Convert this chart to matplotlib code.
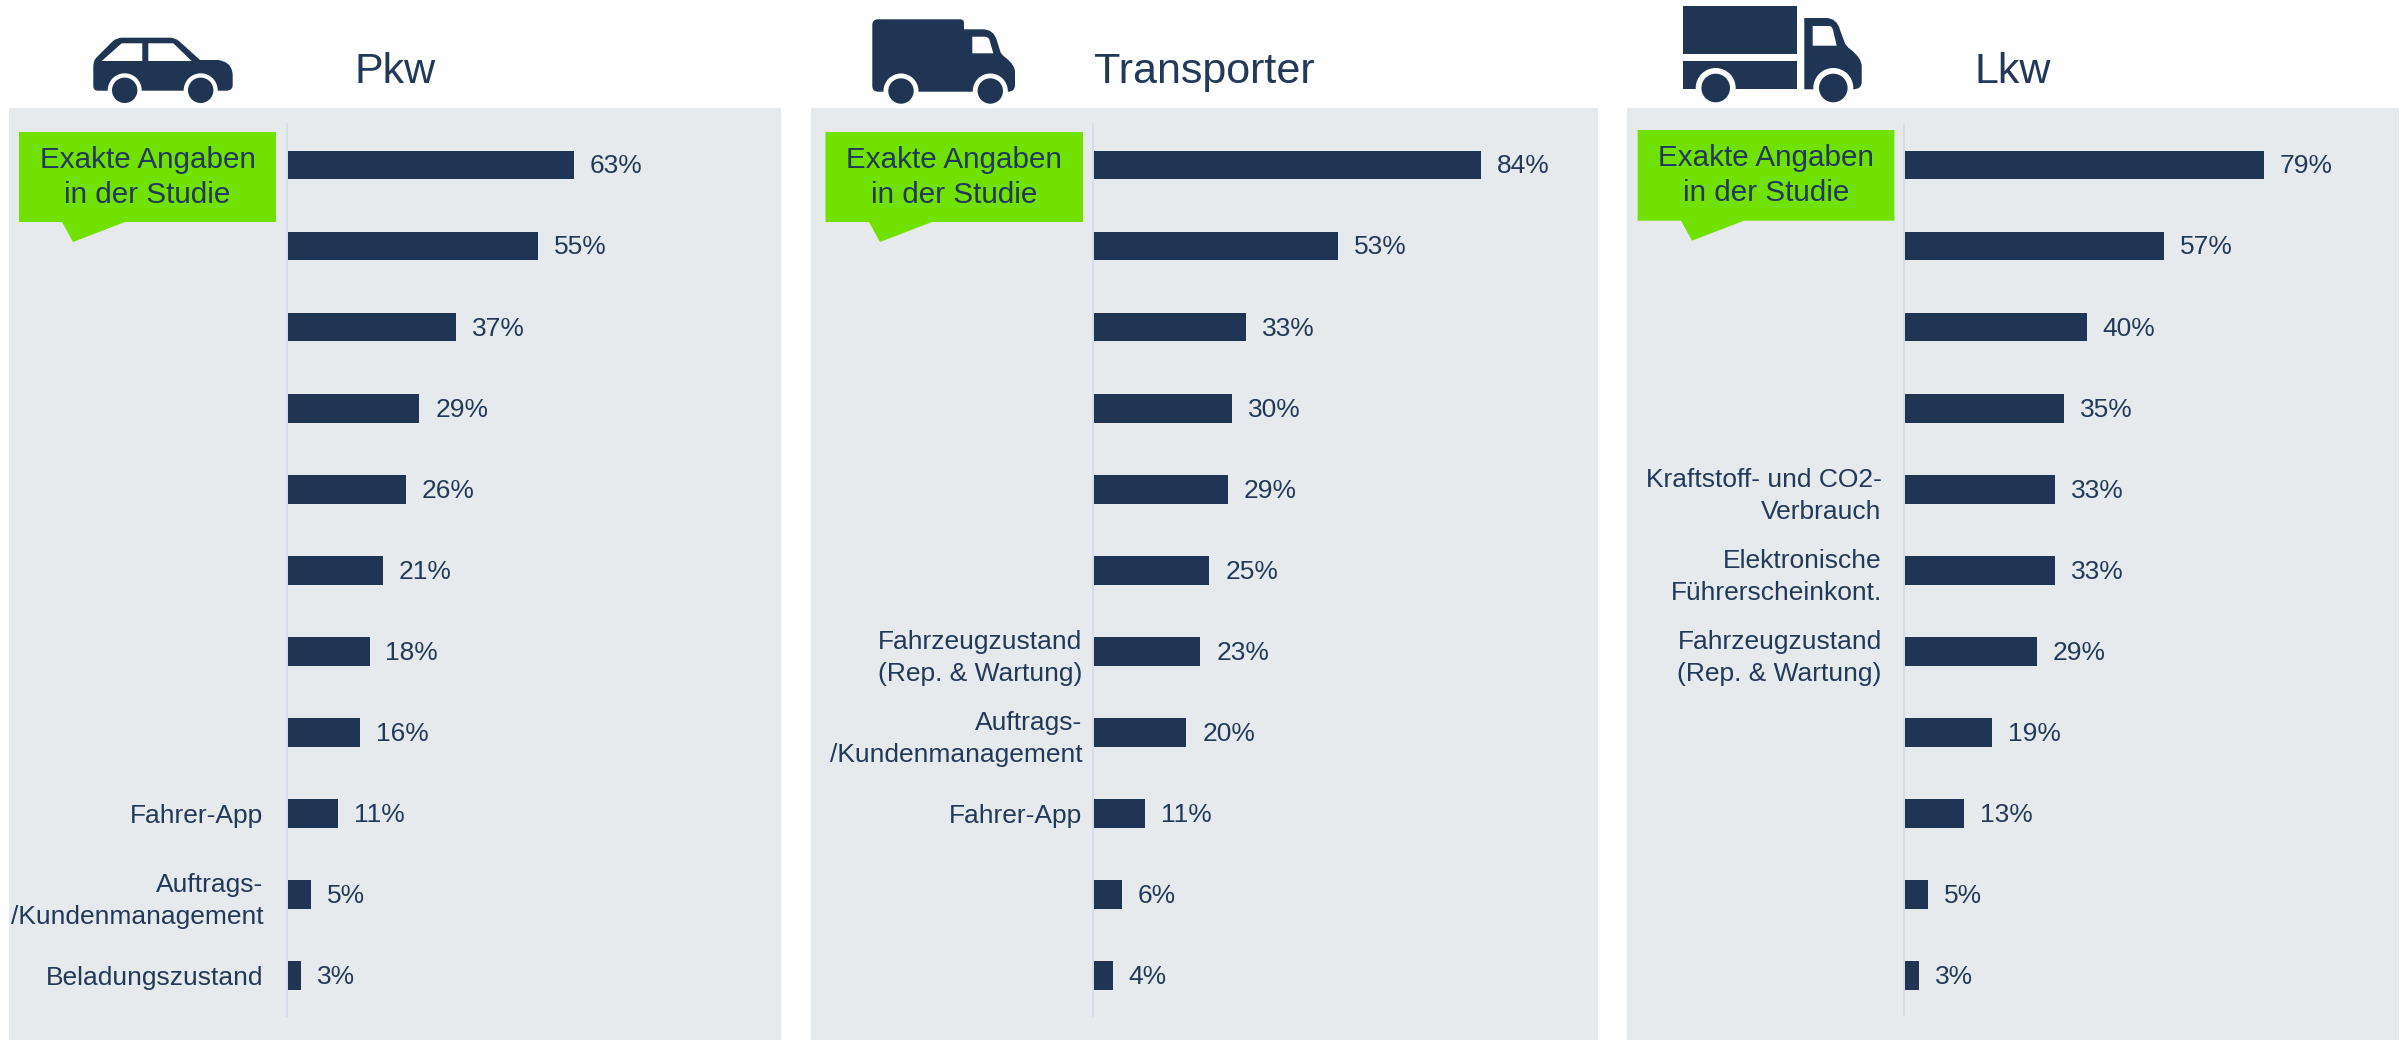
import matplotlib
matplotlib.use("Agg")
import matplotlib.pyplot as plt
from matplotlib.patches import Circle, PathPatch, Polygon, Rectangle
from matplotlib.path import Path

plt.rcParams["font.family"] = ["Liberation Sans", "DejaVu Sans"]

W, H = 2407, 1040
NAVY = "#1F3553"
TEXT = "#22395A"
PANEL = "#E7EAED"
GREEN = "#71E102"
AXIS = "#CFDAE8"

titles = ["Pkw", "Transporter", "Lkw"]

pkw_values = [63, 55, 37, 29, 26, 21, 18, 16, 11, 5, 3]
transporter_values = [84, 53, 33, 30, 29, 25, 23, 20, 11, 6, 4]
lkw_values = [79, 57, 40, 35, 33, 33, 29, 19, 13, 5, 3]

pkw_labels = ["", "", "", "", "", "", "", "", "Fahrer-App",
              "Auftrags-\n/Kundenmanagement", "Beladungszustand"]
transporter_labels = ["", "", "", "", "", "",
                      "Fahrzeugzustand\n(Rep. & Wartung)",
                      "Auftrags-\n/Kundenmanagement", "Fahrer-App", "", ""]
lkw_labels = ["", "", "", "", "Kraftstoff- und CO2-\nVerbrauch",
              "Elektronische\nFührerscheinkont.",
              "Fahrzeugzustand\n(Rep. & Wartung)", "", "", "", ""]

# left, right, x of the bars' base, pixels per percent, label pad in points
panels = [(9, 781, 287.8, 4.54, 17), (811, 1598, 1094.4, 4.6, 8), (1627, 2399, 1905.3, 4.54, 16.3)]
PANEL_TOP, PANEL_BOTTOM = 108, 1040
FIRST_BAR, BAR_STEP = 165, 81.07

fig = plt.figure(figsize=(W / 100, H / 100), dpi=100, facecolor="white")

series = [pkw_values, transporter_values, lkw_values]
labels = [pkw_labels, transporter_labels, lkw_labels]

for (left, right, zero, scale, pad), values, names in zip(panels, series, labels):
    ax = fig.add_axes([left / W, 1 - PANEL_BOTTOM / H, (right - left) / W,
                       (PANEL_BOTTOM - PANEL_TOP) / H])
    ax.set_facecolor(PANEL)
    pos = list(range(len(values)))
    ax.barh(pos, values, height=0.353, color=NAVY)
    for y, v in zip(pos, values):
        ax.annotate(f"{v}%", (v, y), xytext=(11.5, -1), textcoords="offset points",
                    fontsize=19, color=TEXT, ha="left", va="center")
    ax.set_xlim((left - zero) / scale, (right - zero) / scale)
    ax.set_ylim((PANEL_BOTTOM - FIRST_BAR) / BAR_STEP, (PANEL_TOP - FIRST_BAR) / BAR_STEP)
    for side in ["top", "right", "bottom"]:
        ax.spines[side].set_visible(False)
    ax.spines["left"].set_position(("data", -1 / scale))
    ax.spines["left"].set_color(AXIS)
    ax.spines["left"].set_linewidth(1.2)
    ax.spines["left"].set_bounds((124 - FIRST_BAR) / BAR_STEP, (1016 - FIRST_BAR) / BAR_STEP)
    ax.set_xticks([])
    ax.set_yticks(pos)
    ax.set_yticklabels(names, fontsize=19, color=TEXT, multialignment="right", linespacing=1.42)
    ax.tick_params(axis="y", length=0, pad=pad)

# overlay in pixel coordinates for titles, icons and callouts
over = fig.add_axes([0, 0, 1, 1], facecolor="none")
over.set_xlim(0, W)
over.set_ylim(H, 0)
over.axis("off")

for x, title in zip([355, 1094, 1975], titles):
    over.text(x, 83, title, fontsize=31, color=TEXT, ha="left", va="baseline")


def callout(x0, x1, y0, y1, tail):
    over.add_patch(Polygon([(x0, y0), (x1, y0), (x1, y1), (tail + 63, y1),
                            (tail + 11, y1 + 20), (tail, y1), (x0, y1)],
                           closed=True, facecolor=GREEN, edgecolor="none"))
    mid = (x0 + x1) / 2
    over.text(mid, y0 + 28, "Exakte Angaben", fontsize=21.3, color=TEXT, ha="center", va="center")
    over.text(mid, y0 + 63, "in der Studie", fontsize=21.3, color=TEXT, ha="center", va="center")


callout(19, 276, 132, 222, 62)
callout(825.5, 1083, 132, 222, 869)
callout(1637.6, 1894.4, 130, 220.7, 1681)


def outline(points, color=NAVY):
    # a point with a third item is the control point of a curve to the next one
    verts, codes = [], []
    for i, p in enumerate(points):
        verts.append(p[:2])
        if i == 0:
            codes.append(Path.MOVETO)
        elif len(p) == 3 or len(points[i - 1]) == 3:
            codes.append(Path.CURVE3)
        else:
            codes.append(Path.LINETO)
    verts.append(points[0][:2])
    codes.append(Path.CLOSEPOLY)
    over.add_patch(PathPatch(Path(verts, codes), facecolor=color, edgecolor="none"))


def wheel(x, y, r, arch):
    over.add_patch(Circle((x, y), arch, facecolor="white", edgecolor="none"))
    over.add_patch(Circle((x, y), r, facecolor=NAVY, edgecolor="none"))


# car
outline([(93.3, 67), (93.3, 60, 1), (97, 57), (113, 41), (117, 37.7, 1), (122, 37.7),
         (170, 37.7), (175, 37.7, 1), (179, 41), (200, 60), (218, 60), (232.7, 62, 1),
         (232.7, 76), (232.7, 85), (232.7, 90.7, 1), (226, 90.7), (98, 90.7),
         (93.3, 90.7, 1), (93.3, 86)])
outline([(101.7, 61), (121.7, 43.3), (142.3, 43.3), (142.3, 61)], "white")
outline([(148.3, 61), (148.3, 43.3), (173.3, 43.3), (191.7, 61)], "white")
wheel(124.7, 90.3, 12.7, 17)
wheel(200.7, 90.3, 12.7, 17)

# van
outline([(872.3, 25), (872.3, 19.3, 1), (878, 19.3), (960, 19.3), (964, 19.3, 1), (964, 23),
         (964, 29.3), (983, 29.3), (994, 29.3, 1), (997, 41), (1000.7, 52.7),
         (1003, 56, 1), (1006, 58), (1015, 65, 1), (1015, 72), (1015, 85), (1015, 91.7, 1),
         (1008, 91.7), (878, 91.7), (872.3, 91.7, 1), (872.3, 86)])
outline([(972.3, 36.7), (985, 36.7), (988.5, 36.7, 1), (989.5, 40), (993.3, 53.3), (972.3, 53.3)],
        "white")
wheel(901, 91, 12.7, 17.5)
wheel(990.3, 91, 12.7, 17.5)

# truck
over.add_patch(Rectangle((1682.7, 6), 114, 47.7, facecolor=NAVY, edgecolor="none"))
over.add_patch(Rectangle((1682.7, 61.3), 114, 28, facecolor=NAVY, edgecolor="none"))
outline([(1804.3, 18), (1826, 18), (1837, 18, 1), (1840, 30), (1845, 43.3), (1847, 47, 1),
         (1850, 49), (1861.7, 58, 1), (1861.7, 66), (1861.7, 82), (1861.7, 89.3, 1),
         (1853, 89.3), (1804.3, 89.3)])
outline([(1812.7, 26), (1829, 26), (1832, 26, 1), (1833, 30), (1836.7, 45.7), (1812.7, 45.7)],
        "white")
wheel(1715.7, 88, 14.3, 20)
wheel(1833.3, 88, 14.3, 20)

fig.savefig("out.png", dpi=100)
